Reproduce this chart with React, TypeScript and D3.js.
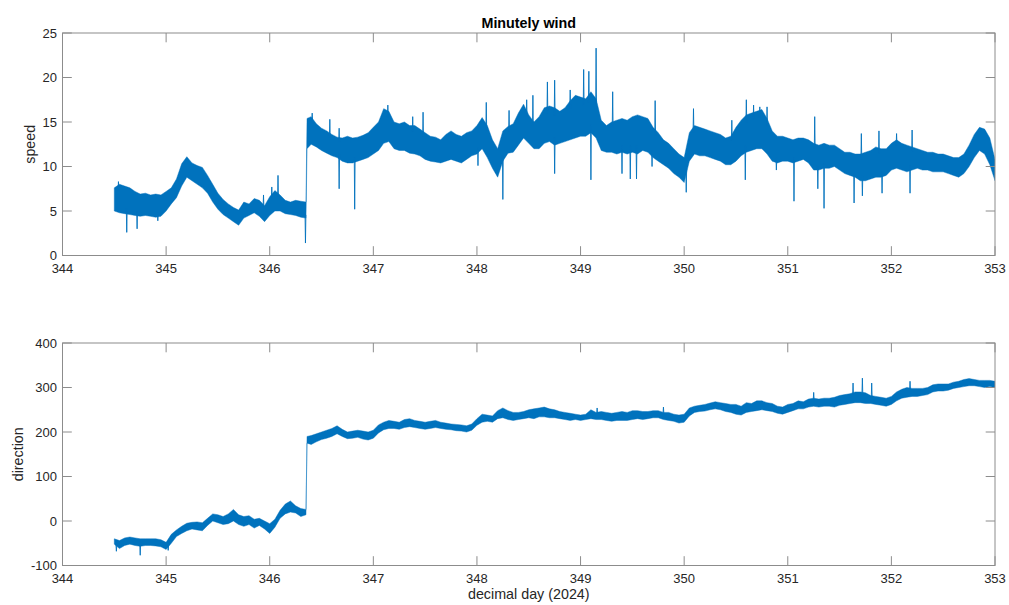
import React from 'react';
import * as d3 from 'd3';

// ---------- data ----------
const grid = (a: number, b: number) =>
  d3.range(Math.round((b - a) / 0.05) + 1).map((i) => +(a + i * 0.05).toFixed(2));

// sample days: 0.05-day bins, plus one sample right after the jump near day 346.35
const sampleDay: number[] = [...grid(344.5, 346.35), 346.36, ...grid(346.4, 353)];

const xTicks = [344, 345, 346, 347, 348, 349, 350, 351, 352, 353];
const speedTicks = [0, 5, 10, 15, 20, 25];
const dirTicks = [-100, 0, 100, 200, 300, 400];

// speed envelope (low / high) per sample
const speedLow = [
  5.0, 4.8, 4.7, 4.6, 4.5, 4.4, 4.5, 4.4, 4.3, 4.4,
  5.0, 5.8, 6.5, 7.8, 8.8, 8.4, 8.0, 7.6, 7.0, 6.0,
  5.2, 4.6, 4.2, 3.8, 3.4, 4.2, 4.5, 4.8, 4.4, 3.8,
  4.5, 5.0, 5.0, 4.7, 4.6, 4.5, 4.3, 4.2,
  12.0,
  12.5, 12.2, 11.8, 11.5, 11.2, 11.0, 10.6, 10.4, 10.4, 10.6,
  10.8, 11.0, 11.4, 11.8, 12.6, 12.8, 12.0, 11.8, 11.8, 11.5,
  11.4, 11.2, 10.8, 10.6, 10.5, 10.4, 10.6, 10.8, 10.6, 10.4,
  10.8, 11.2, 11.4, 12.0, 11.0, 9.8, 8.8, 10.6, 11.5, 11.6,
  12.4, 13.2, 12.6, 12.0, 12.0, 12.6, 12.8, 12.4, 12.6, 12.8,
  13.0, 13.2, 13.4, 13.4, 13.8, 13.2, 11.8, 11.6, 11.6, 11.4,
  11.6, 11.4, 11.6, 11.4, 11.8, 11.6, 11.0, 10.6, 10.2, 9.8,
  9.2, 8.8, 8.2, 10.6, 11.4, 11.2, 11.2, 11.0, 10.8, 10.6,
  10.2, 10.2, 10.6, 11.2, 11.6, 11.8, 12.0, 12.0, 11.4, 10.6,
  10.4, 10.6, 10.6, 10.4, 10.6, 10.8, 10.4, 9.6, 9.6, 9.8,
  9.8, 10.0, 9.6, 9.2, 9.0, 8.8, 8.4, 8.4, 8.6, 8.8,
  8.8, 9.0, 9.6, 9.8, 9.6, 9.4, 9.6, 9.8, 9.6, 9.6,
  9.4, 9.4, 9.4, 9.2, 9.0, 8.8, 9.2, 10.0, 11.0, 11.8,
  11.4, 10.2, 8.4,
];
const speedHigh = [
  7.6, 8.0, 7.8, 7.6, 7.2, 6.9, 7.0, 6.8, 6.9, 6.8,
  7.2, 7.6, 8.6, 10.3, 11.1, 10.4, 10.1, 9.9, 9.0, 8.0,
  7.0, 6.3, 5.8, 5.4, 5.1, 6.0, 5.8, 6.4, 6.2, 5.6,
  6.6, 7.3, 6.8, 6.2, 6.0, 6.2, 6.1, 6.0,
  15.4,
  15.6, 14.8, 14.3, 14.0, 13.6, 13.3, 13.2, 13.4, 13.2, 13.3,
  13.5, 13.8, 14.4, 15.0, 16.5, 16.2, 15.0, 14.8, 15.0, 14.6,
  14.6, 14.2, 13.8, 13.4, 13.3, 13.0, 13.6, 14.0, 13.6, 13.4,
  13.8, 14.0, 14.6, 15.5, 14.6, 13.0, 12.0, 14.0, 14.5, 14.8,
  16.0, 17.0, 15.8, 15.0, 15.6, 16.6, 16.8, 16.6, 16.2, 16.6,
  17.4, 18.0, 17.8, 17.6, 18.4, 17.6, 15.2, 14.6, 15.0, 15.2,
  15.4, 15.2, 15.6, 15.8, 15.6, 15.4, 14.4, 13.8, 13.0, 12.6,
  12.0, 11.4, 11.0, 13.8, 14.6, 14.4, 14.2, 14.0, 13.8, 13.6,
  13.2, 13.4, 14.4, 15.2, 15.8, 16.0, 16.2, 16.4, 15.4, 14.0,
  13.4, 13.4, 13.2, 13.0, 13.2, 13.2, 13.0, 12.6, 12.4, 12.6,
  12.4, 12.4, 12.0, 11.6, 11.6, 11.4, 11.4, 11.6, 11.8, 12.2,
  12.0, 12.0, 12.6, 13.0, 12.6, 12.4, 12.2, 12.0, 11.8, 11.6,
  11.6, 11.4, 11.4, 11.2, 11.0, 11.0, 11.4, 12.4, 13.6, 14.4,
  14.2, 13.2, 10.8,
];

// direction envelope (low / high) per sample
const dirLow = [
  -52, -62, -55, -52, -55, -57, -55, -55, -56, -58,
  -64, -50, -35, -28, -22, -18, -20, -22, -10, 0,
  -4, -8, -6, 0, -8, -12, -8, -16, -10, -18,
  -28, -14, 6, 16, 20, 18, 10, 14,
  175,
  172, 178, 183, 186, 190, 196, 190, 185, 186, 188,
  184, 182, 186, 198, 205, 208, 208, 206, 210, 212,
  210, 208, 206, 208, 210, 208, 206, 205, 203, 202,
  200, 204, 215, 222, 224, 222, 230, 232, 228, 226,
  228, 230, 232, 230, 234, 234, 232, 232, 230, 228,
  226, 228, 226, 228, 230, 228, 228, 226, 224, 226,
  226, 226, 228, 230, 228, 230, 232, 232, 228, 226,
  224, 220, 222, 236, 244, 246, 247, 250, 252, 250,
  246, 244, 240, 238, 244, 246, 248, 250, 248, 246,
  242, 240, 244, 248, 252, 252, 256, 258, 256, 258,
  258, 256, 260, 262, 264, 266, 266, 264, 264, 262,
  260, 258, 262, 270, 276, 278, 280, 280, 282, 284,
  290, 292, 292, 294, 298, 300, 302, 304, 304, 302,
  300, 302, 300,
];
const dirHigh = [
  -40, -44, -38, -36, -38, -40, -40, -40, -40, -42,
  -48, -30, -20, -12, -5, -3, -2, -4, 6, 16,
  14, 10, 16, 26, 14, 10, 12, 4, 6, 0,
  -6, 4, 24, 38, 45, 34, 28, 26,
  190,
  192, 196, 200, 204, 208, 214, 206, 200, 202, 204,
  202, 200, 204, 216, 222, 226, 224, 222, 228, 230,
  226, 224, 222, 224, 226, 222, 220, 218, 217, 216,
  214, 218, 230, 240, 238, 236, 248, 254, 248, 244,
  244, 246, 250, 252, 254, 256, 252, 250, 246, 244,
  242, 240, 238, 240, 250, 244, 246, 244, 242, 244,
  246, 244, 248, 248, 246, 246, 248, 248, 244, 244,
  240, 238, 240, 254, 258, 260, 262, 265, 268, 266,
  264, 262, 262, 258, 266, 264, 270, 270, 266, 264,
  258, 256, 262, 264, 270, 268, 274, 276, 274, 276,
  276, 278, 282, 284, 286, 290, 290, 288, 282, 280,
  278, 276, 280, 290, 296, 300, 298, 298, 298, 300,
  306, 308, 308, 308, 312, 314, 318, 320, 318, 316,
  316, 316, 314,
];

// isolated gusts / dips: [day, value]
const speedSpikeDay = [
  344.54, 344.62, 344.72, 344.92, 345.94, 346.02, 346.08, 346.345, 346.41, 346.58,
  346.67, 346.82, 347.14, 347.48, 348.09, 348.25, 348.31, 348.48, 348.54, 348.68,
  348.75, 348.75, 349.03, 349.08, 349.10, 349.15, 349.31, 349.40, 349.48, 349.54,
  349.72, 350.02, 350.09, 350.59, 350.60, 350.67, 350.80, 350.89, 351.06, 351.26,
  351.29, 351.35, 351.64, 351.71, 351.72, 351.88, 351.91, 352.05, 352.18, 352.20,
  348.90, 349.69, 350.46, 350.73, 347.38, 348.01, 346.67,
];
const speedSpikeValue = [
  8.3, 2.6, 3.0, 3.9, 6.8, 7.7, 9.0, 1.4, 16.0, 15.3,
  7.5, 5.2, 16.9, 16.1, 17.2, 6.3, 16.3, 17.5, 18.0, 19.5,
  19.7, 9.2, 20.9, 20.7, 8.5, 23.3, 18.4, 9.2, 8.6, 8.6,
  17.4, 7.1, 16.5, 8.5, 17.5, 16.9, 16.7, 9.6, 6.1, 15.6,
  7.5, 5.3, 5.9, 13.7, 6.7, 14.0, 7.0, 13.7, 7.0, 14.1,
  18.6, 10.0, 15.2, 16.7, 15.6, 10.1, 14.3,
];
const dirSpikeDay = [344.52, 344.75, 345.02, 349.16, 349.80, 351.25, 351.63, 351.72, 351.81, 352.18];
const dirSpikeValue = [-68, -77, -66, 254, 256, 289, 310, 321, 310, 314];

// ---------- layout ----------
const W = 1009;
const H = 605;
const X0 = 62.5;
const X1 = 995;
const BLUE = '#0072BD';
const TEXT = '#262626';
const AXIS = '#8c8c8c';
const FONT = '"Liberation Sans", Arial, Helvetica, sans-serif';

const x = d3.scaleLinear().domain([344, 353]).range([X0, X1]);

type PanelProps = {
  top: number;
  bottom: number;
  domain: [number, number];
  ticks: number[];
  low: number[];
  high: number[];
  spikeDay: number[];
  spikeValue: number[];
  ylabel: string;
  ylabelX: number;
  id: string;
};

function Panel(p: PanelProps) {
  const y = d3.scaleLinear().domain(p.domain).range([p.bottom, p.top]);
  const idx = d3.range(sampleDay.length);
  const area = d3
    .area<number>()
    .x((i) => x(sampleDay[i]))
    .y0((i) => y(p.low[i]))
    .y1((i) => y(p.high[i]));
  const bis = d3.bisector((d: number) => d).left;
  const interp = (arr: number[], t: number) => {
    const j = Math.max(1, Math.min(sampleDay.length - 1, bis(sampleDay, t)));
    const t0 = sampleDay[j - 1];
    const t1 = sampleDay[j];
    const f = (t - t0) / (t1 - t0);
    return arr[j - 1] + (arr[j] - arr[j - 1]) * f;
  };
  const spikePath = p.spikeDay
    .map((t, k) => {
      const v = p.spikeValue[k];
      const lo = interp(p.low, t);
      const hi = interp(p.high, t);
      const base = v > hi ? hi - 0.2 * (hi - lo) : lo + 0.2 * (hi - lo);
      return `M${x(t - 0.004)},${y(base)}L${x(t)},${y(v)}L${x(t + 0.004)},${y(base)}`;
    })
    .join('');
  const tickLen = 9.3;
  const mid = (p.top + p.bottom) / 2;
  return (
    <g>
      <defs>
        <clipPath id={p.id}>
          <rect x={X0} y={p.top} width={X1 - X0} height={p.bottom - p.top} />
        </clipPath>
      </defs>
      <g clipPath={`url(#${p.id})`}>
        <path d={area(idx) || ''} fill={BLUE} stroke={BLUE} strokeWidth={1} strokeOpacity={0.45} />
        <path d={spikePath} fill="none" stroke={BLUE} strokeWidth={0.9} />
      </g>
      {/* box */}
      <rect x={X0} y={p.top} width={X1 - X0} height={p.bottom - p.top} fill="none" stroke={AXIS} strokeWidth={1} />
      {/* x ticks top & bottom */}
      {xTicks.map((t) => (
        <g key={'x' + t}>
          <line x1={x(t)} x2={x(t)} y1={p.bottom} y2={p.bottom - tickLen} stroke={AXIS} />
          <line x1={x(t)} x2={x(t)} y1={p.top} y2={p.top + tickLen} stroke={AXIS} />
          <text x={x(t)} y={p.bottom + 17} textAnchor="middle" fontSize={13} fill={TEXT} fontFamily={FONT}>
            {t}
          </text>
        </g>
      ))}
      {/* y ticks left & right */}
      {p.ticks.map((v) => (
        <g key={'y' + v}>
          <line x1={X0} x2={X0 + tickLen} y1={y(v)} y2={y(v)} stroke={AXIS} />
          <line x1={X1} x2={X1 - tickLen} y1={y(v)} y2={y(v)} stroke={AXIS} />
          <text x={X0 - 5.5} y={y(v)} dy="0.36em" textAnchor="end" fontSize={13} fill={TEXT} fontFamily={FONT}>
            {v}
          </text>
        </g>
      ))}
      <text
        transform={`translate(${p.ylabelX},${mid}) rotate(-90)`}
        textAnchor="middle"
        fontSize={14.3}
        fill={TEXT}
        fontFamily={FONT}
      >
        {p.ylabel}
      </text>
    </g>
  );
}

export default function App() {
  return (
    <svg
      width={W}
      height={H}
      style={{ position: 'absolute', left: 0, top: 0, background: '#ffffff' }}
      shapeRendering="auto"
    >
      <rect width={W} height={H} fill="#ffffff" />
      <text x={(X0 + X1) / 2} y={28} textAnchor="middle" fontSize={14.3} fontWeight="bold" fill="#000" fontFamily={FONT}>
        Minutely wind
      </text>
      <Panel
        id="clipTop"
        top={33}
        bottom={255.5}
        domain={[0, 25]}
        ticks={speedTicks}
        low={speedLow}
        high={speedHigh}
        spikeDay={speedSpikeDay}
        spikeValue={speedSpikeValue}
        ylabel="speed"
        ylabelX={35}
      />
      <Panel
        id="clipBottom"
        top={343}
        bottom={565.5}
        domain={[-100, 400]}
        ticks={dirTicks}
        low={dirLow}
        high={dirHigh}
        spikeDay={dirSpikeDay}
        spikeValue={dirSpikeValue}
        ylabel="direction"
        ylabelX={23}
      />
      <text x={(X0 + X1) / 2} y={599} textAnchor="middle" fontSize={14.3} fill={TEXT} fontFamily={FONT}>
        decimal day (2024)
      </text>
    </svg>
  );
}
